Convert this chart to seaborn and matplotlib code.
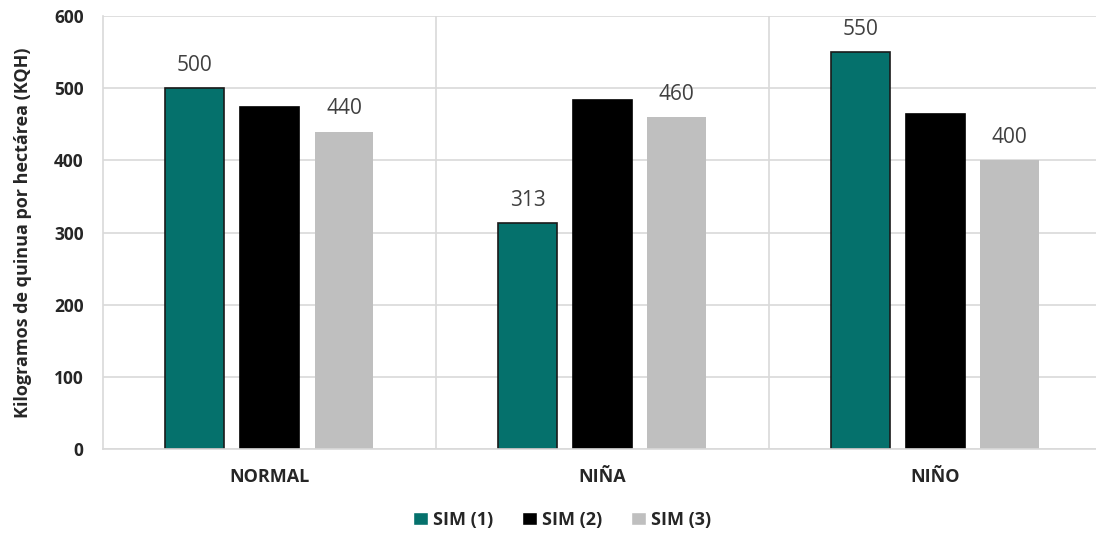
import numpy as np
import pandas as pd
import matplotlib.pyplot as plt
import seaborn as sns

# valeurs
categorias = ["NORMAL", "NIÑA", "NIÑO"]
series = ["SIM (1)", "SIM (2)", "SIM (3)"]
sim1 = [500, 313, 550]
sim2 = [474, 484, 465]
sim3 = [440, 460, 400]
colores = ["#05716C", "#000000", "#BFBFBF"]

df = pd.DataFrame({
    "cat": categorias * 3,
    "sim": [s for s in series for _ in categorias],
    "kqh": sim1 + sim2 + sim3,
})

sns.set_style("white")
plt.rcParams['font.family'] = ['Open Sans', 'DejaVu Sans']

fig = plt.figure(figsize=(10.96, 5.39), dpi=100)
ax = fig.add_axes([0.094, 0.167, 0.911, 0.803])

sns.barplot(data=df, x="cat", y="kqh", hue="sim", order=categorias, hue_order=series,
            palette=colores, width=0.672, gap=0.21, ax=ax, saturation=1, legend=True)

# bordes: SIM(1) y SIM(2) con borde negro, SIM(3) sin borde
for cont, ec in zip(ax.containers, ["#1a1a1a", "#000000", "none"]):
    for b in cont:
        b.set_edgecolor(ec)
        b.set_linewidth(1.2 if ec != "none" else 0)

# etiquetas solo en SIM(1) y SIM(3)
for idx in [0, 2]:
    ax.bar_label(ax.containers[idx], labels=[str(v) for v in (sim1 if idx == 0 else sim3)],
                 padding=9, fontsize=15, color="#404040")

ax.set_ylim(0, 600)
ax.set_xlim(-0.5, 2.5)
ax.set_yticks(range(0, 601, 100))
ax.set_xticks([0.5, 1.5], minor=True)
ax.grid(axis="y", color="#d9d9d9", linewidth=1.2)
ax.grid(axis="x", which="minor", color="#d9d9d9", linewidth=1.2)
ax.set_axisbelow(True)
for s in ["top", "right"]:
    ax.spines[s].set_visible(False)
ax.spines["left"].set_color("#d9d9d9")
ax.spines["bottom"].set_color("#d9d9d9")
ax.spines["left"].set_linewidth(1.2)
ax.spines["bottom"].set_linewidth(1.2)
ax.tick_params(axis="both", which="both", length=0)
ax.tick_params(axis="y", pad=14, labelsize=12.5)
ax.tick_params(axis="x", pad=14, labelsize=13)
for t in ax.get_xticklabels() + ax.get_yticklabels():
    t.set_fontweight("bold")

ax.set_xlabel("")
ax.set_ylabel("Kilogramos de quinua por hectárea (KQH)", fontsize=13, fontweight="bold", labelpad=16)

leg = ax.legend(loc="upper center", bbox_to_anchor=(0.46, -0.105), ncol=3, frameon=False,
                handlelength=0.8, handleheight=0.8, handletextpad=0.3, columnspacing=1.6,
                prop={"weight": "bold", "size": 13})

plt.savefig("out.png", dpi=100)
